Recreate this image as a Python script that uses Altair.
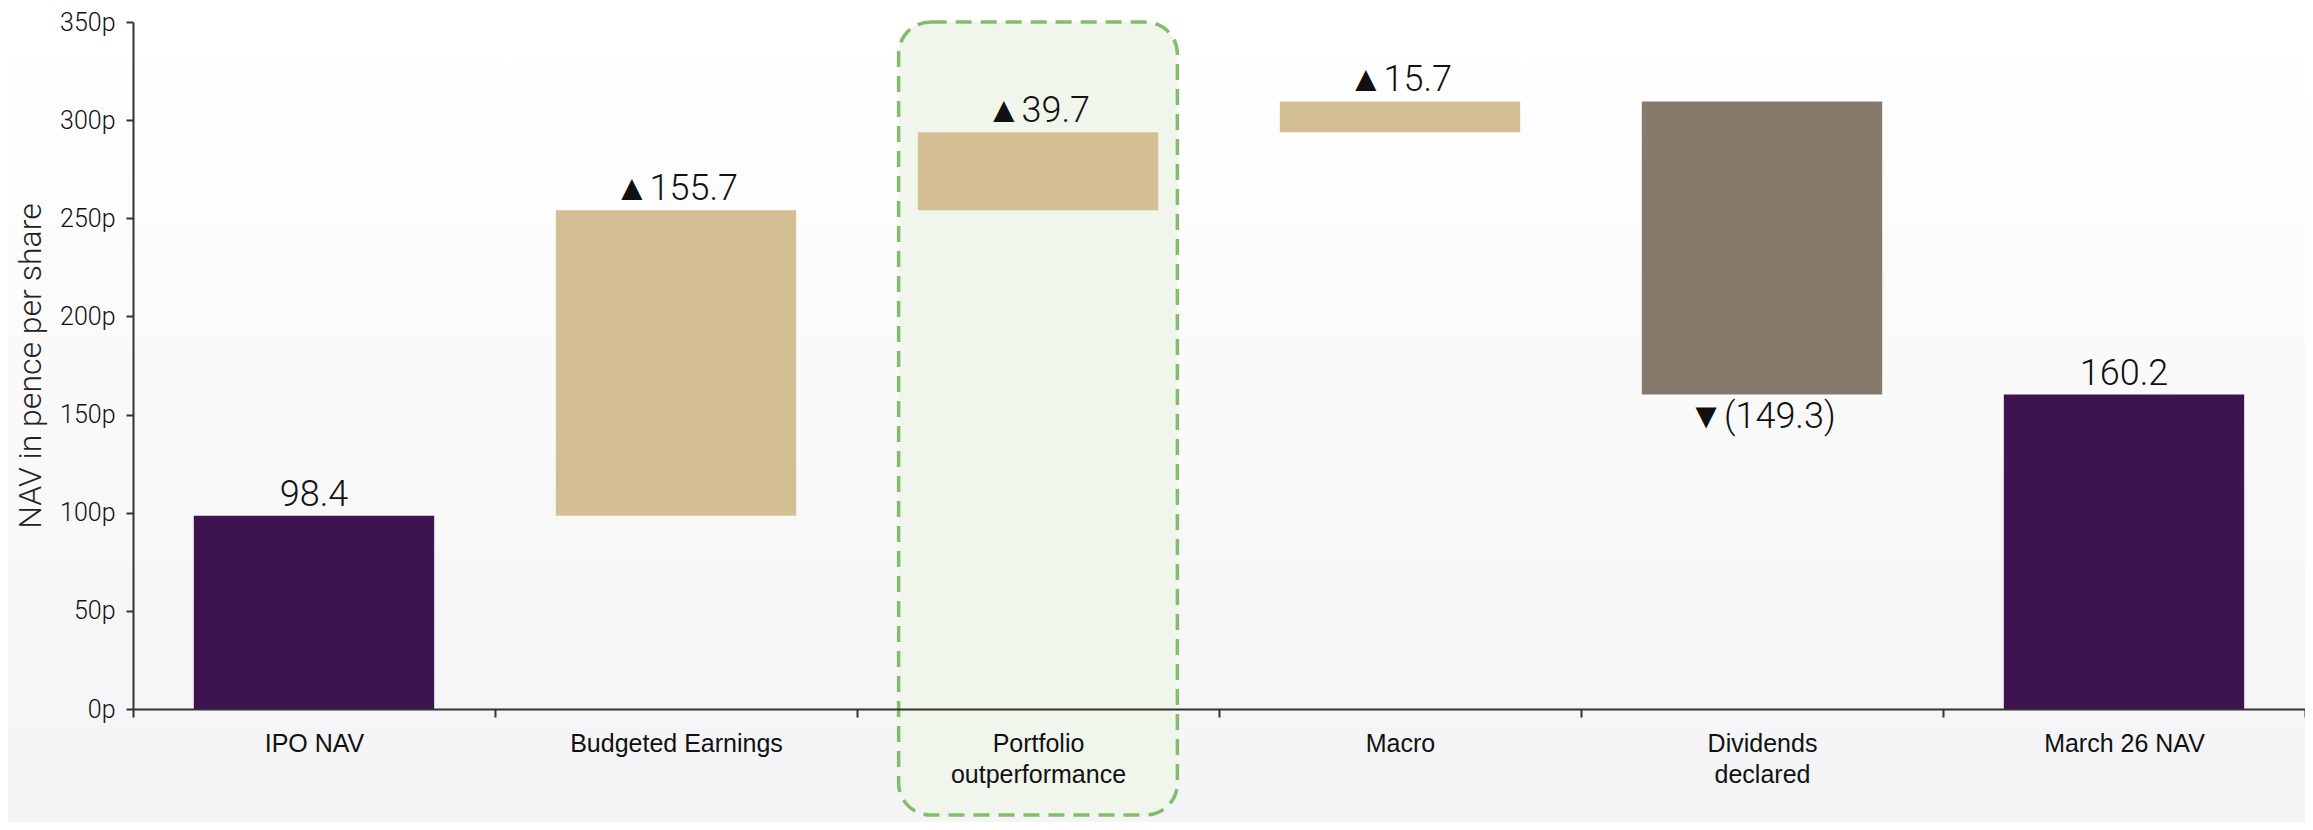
import altair as alt
import pandas as pd

categories = ["IPO NAV", "Budgeted Earnings", "Portfolio outperformance", "Macro", "Dividends declared", "March 26 NAV"]
changes = [98.4, 155.7, 39.7, 15.7, -149.3, 160.2]
kinds = ["total", "up", "up", "up", "down", "total"]
labels = ["98.4", "▲155.7", "▲39.7", "▲15.7", "▼(149.3)", "160.2"]
y_ticks = [0, 50, 100, 150, 200, 250, 300, 350]
highlight = "Portfolio outperformance"
highlight_top = 350
highlight_bottom = -54

# build waterfall start/end
starts, ends = [], []
running = 0.0
for k, c in zip(kinds, changes):
    if k == "total":
        starts.append(0.0)
        ends.append(c)
        running = c
    else:
        starts.append(running)
        running = round(running + c, 1)
        ends.append(running)

df = pd.DataFrame({
    "cat": categories,
    "start": starts,
    "end": ends,
    "kind": kinds,
    "label": labels,
})
df["top"] = df[["start", "end"]].max(axis=1)
df["bottom"] = df[["start", "end"]].min(axis=1)

W, H = 2172, 687

label_expr = ("datum.label == 'Portfolio outperformance' ? ['Portfolio', 'outperformance'] : "
              "datum.label == 'Dividends declared' ? ['Dividends', 'declared'] : datum.label")

x_enc = alt.X("cat:N", sort=categories,
              scale=alt.Scale(paddingInner=0, paddingOuter=0),
              axis=alt.Axis(title=None, labelAngle=0, tickBand="extent", tickSize=8,
                            labelPadding=14, labelFontSize=25, labelFont="Liberation Sans",
                            labelColor="#111111", labelLineHeight=31, labelExpr=label_expr,
                            labelLimit=0,
                            domainColor="#333333", domainWidth=2, tickColor="#333333",
                            tickWidth=2, grid=False, zindex=1))
y_scale = alt.Scale(domain=[0, 350], nice=False, zero=True)

bg = alt.Chart(pd.DataFrame({"a": [0]})).mark_rect(
    fill=alt.LinearGradient(gradient="linear", x1=0, y1=0, x2=0, y2=1,
                            stops=[alt.GradientStop(color="#ffffff", offset=0),
                                   alt.GradientStop(color="#f4f4f6", offset=1)])
).encode(x=alt.value(-125), x2=alt.value(W + 10), y=alt.value(-14), y2=alt.value(H + 115))

box_df = pd.DataFrame({"cat": [highlight], "t": [highlight_top], "b": [highlight_bottom]})
box = alt.Chart(box_df).mark_bar(
    width=alt.RelativeBandSize(0.77), cornerRadius=32, fill="#f1f6ed",
    stroke="#84bc6e", strokeWidth=3.5, strokeDash=[16, 9], clip=False
).encode(
    x=x_enc,
    y=alt.Y("t:Q", scale=y_scale,
            axis=alt.Axis(title="NAV in pence per share", values=y_ticks,
                          labelExpr="datum.value + 'p'", labelFontSize=25,
                          labelFont="Roboto", labelFontWeight=300, labelColor="#111111",
                          labelPadding=11, tickSize=7, tickWidth=2, tickColor="#333333",
                          domainColor="#333333", domainWidth=2, grid=False,
                          titleFontSize=32, titleFont="Roboto", titleFontWeight=300,
                          titleColor="#222222", titleX=-86, titleBaseline="bottom",
                          zindex=1)),
    y2="b:Q",
)

color_scale = alt.Scale(domain=["total", "up", "down"], range=["#3e1450", "#d4bf94", "#857a6c"])

bars = alt.Chart(df).mark_bar(width=alt.RelativeBandSize(0.664)).encode(
    x=alt.X("cat:N", sort=categories),
    y=alt.Y("start:Q", scale=y_scale),
    y2="end:Q",
    color=alt.Color("kind:N", scale=color_scale, legend=None),
)

text_up = alt.Chart(df).transform_filter("datum.kind != 'down'").mark_text(
    fontSize=36, font="Roboto", fontWeight=300, color="#111111", baseline="alphabetic", dy=-10
).encode(x=alt.X("cat:N", sort=categories), y=alt.Y("top:Q", scale=y_scale), text="label:N")

text_down = alt.Chart(df).transform_filter("datum.kind == 'down'").mark_text(
    fontSize=36, font="Roboto", fontWeight=300, color="#111111", baseline="top", dy=5
).encode(x=alt.X("cat:N", sort=categories), y=alt.Y("bottom:Q", scale=y_scale), text="label:N")

chart = alt.layer(bg, box, bars, text_up, text_down).properties(
    width=W, height=H,
    autosize=alt.AutoSizeParams(type="none"),
    padding={"left": 125, "top": 14, "right": 0, "bottom": 113},
).configure_view(strokeWidth=0).configure(background="#ffffff")

chart.save("out.html", embed_options={"renderer": "svg", "actions": False})
